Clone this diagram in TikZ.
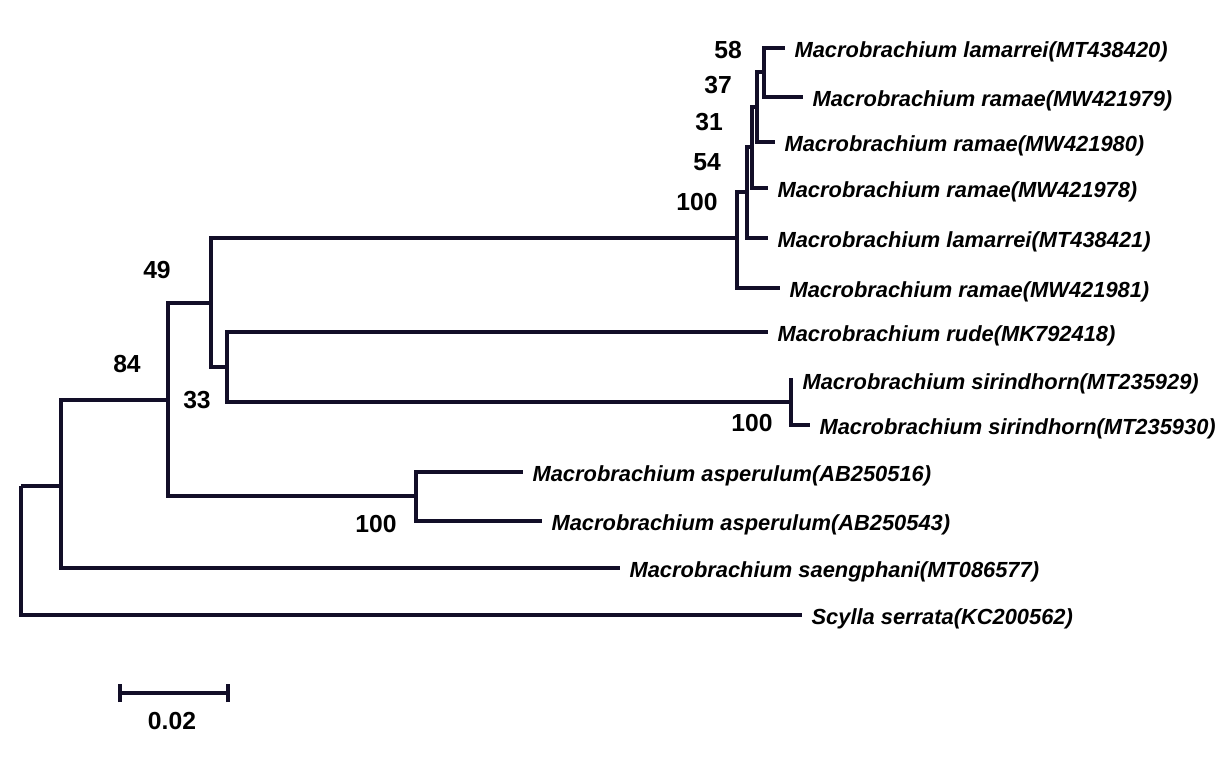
\documentclass[tikz,border=0pt]{standalone}
\usepackage{fontspec}
\setmainfont{Liberation Sans}
\usepackage{tikz}
\usepackage{xcolor}
\definecolor{treeink}{RGB}{18,14,40}

\tikzset{
  branch/.style={draw=treeink,line width=2.4pt},
  leaf/.style={anchor=west,inner xsep=7pt,inner ysep=0pt,text height=17pt,text depth=3.5pt,font=\fontsize{16.4}{18}\selectfont\bfseries\itshape},
  boot/.style={inner sep=0pt,font=\fontsize{18.5}{20}\selectfont\bfseries}
}

\begin{document}
\begin{tikzpicture}[x=0.75pt,y=-0.75pt]
  \useasboundingbox (0,0) rectangle (1224,757);

  \coordinate (root) at (21,486);
  \coordinate (n84) at (61,486);
  \coordinate (n33) at (168,400);
  \coordinate (n49) at (211,303);
  \coordinate (nrude) at (227,367);
  \coordinate (nsir) at (791,402);
  \coordinate (nasp) at (416,496);
  \coordinate (n100) at (737,238);
  \coordinate (n54) at (747,192);
  \coordinate (n31) at (752,147);
  \coordinate (n37) at (757,107);
  \coordinate (n58) at (764,72);

  \node[leaf] (lam1) at (785,48) {Macrobrachium lamarrei(MT438420)};
  \node[leaf] (ram1) at (803,97) {Macrobrachium ramae(MW421979)};
  \node[leaf] (ram2) at (775,142) {Macrobrachium ramae(MW421980)};
  \node[leaf] (ram3) at (768,188) {Macrobrachium ramae(MW421978)};
  \node[leaf] (lam2) at (768,238) {Macrobrachium lamarrei(MT438421)};
  \node[leaf] (ram4) at (780,288) {Macrobrachium ramae(MW421981)};
  \node[leaf] (rude) at (768,332) {Macrobrachium rude(MK792418)};
  \node[leaf] (sir1) at (793,380) {Macrobrachium sirindhorn(MT235929)};
  \node[leaf] (sir2) at (810,425) {Macrobrachium sirindhorn(MT235930)};
  \node[leaf] (asp1) at (523,472) {Macrobrachium asperulum(AB250516)};
  \node[leaf] (asp2) at (542,521) {Macrobrachium asperulum(AB250543)};
  \node[leaf] (saeng) at (620,568) {Macrobrachium saengphani(MT086577)};
  \node[leaf] (scy) at (802,615) {Scylla serrata(KC200562)};

  \draw[branch] (root) |- (n84);
  \draw[branch] (root) |- (scy);
  \draw[branch] (n84) |- (n33);
  \draw[branch] (n84) |- (saeng);
  \draw[branch] (n33) |- (n49);
  \draw[branch] (n33) |- (nasp);
  \draw[branch] (n49) |- (n100);
  \draw[branch] (n49) |- (nrude);
  \draw[branch] (nrude) |- (rude);
  \draw[branch] (nrude) |- (nsir);
  \draw[branch] (nsir) |- (sir1);
  \draw[branch] (nsir) |- (sir2);
  \draw[branch] (nasp) |- (asp1);
  \draw[branch] (nasp) |- (asp2);
  \draw[branch] (n100) |- (n54);
  \draw[branch] (n100) |- (ram4);
  \draw[branch] (n54) |- (n31);
  \draw[branch] (n54) |- (lam2);
  \draw[branch] (n31) |- (n37);
  \draw[branch] (n31) |- (ram3);
  \draw[branch] (n37) |- (n58);
  \draw[branch] (n37) |- (ram2);
  \draw[branch] (n58) |- (lam1);
  \draw[branch] (n58) |- (ram1);

  \node[boot] (b58) at (728,50) {58};
  \node[boot] (b37) at (718,85) {37};
  \node[boot] (b31) at (709,122) {31};
  \node[boot] (b54) at (707,162) {54};
  \node[boot] (b100a) at (697,202) {100};
  \node[boot] (b49) at (157,270) {49};
  \node[boot] (b84) at (127,364) {84};
  \node[boot] (b33) at (197,400) {33};
  \node[boot] (b100b) at (752,423) {100};
  \node[boot] (b100c) at (376,524) {100};

  \coordinate (sbl) at (120,693);
  \coordinate (sbr) at (228,693);
  \draw[branch] (sbl) -- (sbr);
  \draw[branch] ([yshift=-6.75pt]sbl) -- ([yshift=6.75pt]sbl);
  \draw[branch] ([yshift=-6.75pt]sbr) -- ([yshift=6.75pt]sbr);
  \node[boot] (sblab) at (172,721) {0.02};
\end{tikzpicture}
\end{document}
